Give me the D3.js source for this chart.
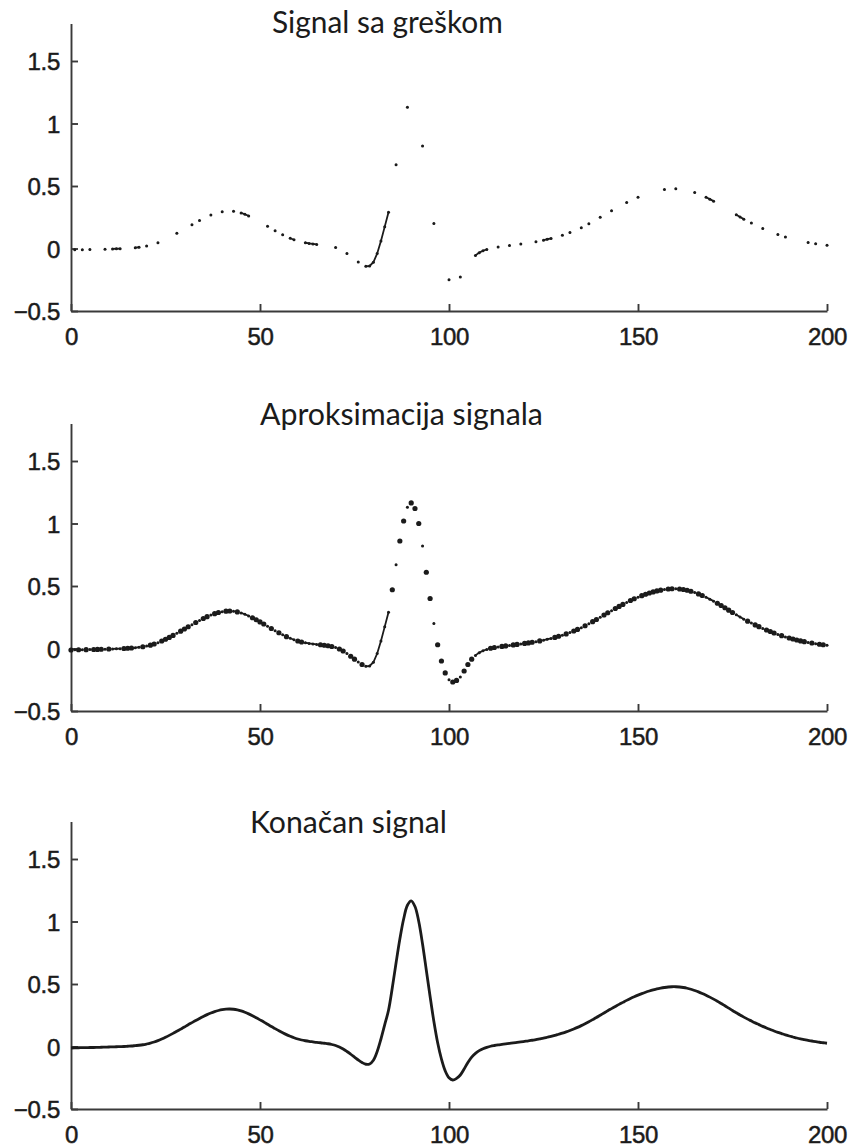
<!DOCTYPE html>
<html>
<head>
<meta charset="utf-8">
<script src="https://cdn.jsdelivr.net/npm/d3@7"></script>
<style>
  html, body { margin: 0; padding: 0; background: #fff; }
  svg { display: block; }
</style>
</head>
<body>
<script>
// ECG-like signal, one value per sample n = 0..200
const signal = [
  -0.012,-0.010,-0.010,-0.009,-0.009,-0.008,-0.008,-0.007,-0.006,-0.005,
  -0.004,-0.003,-0.002,-0.001, 0.000, 0.002, 0.004, 0.007, 0.010, 0.014,
   0.020, 0.027, 0.036, 0.047, 0.060, 0.074, 0.089, 0.105, 0.122, 0.139,
   0.156, 0.174, 0.191, 0.208, 0.224, 0.240, 0.255, 0.268, 0.279, 0.288,
   0.295, 0.299, 0.300, 0.298, 0.293, 0.285, 0.274, 0.261, 0.246, 0.230,
   0.213, 0.196, 0.178, 0.160, 0.143, 0.126, 0.110, 0.095, 0.082, 0.070,
   0.060, 0.052, 0.046, 0.041, 0.037, 0.033, 0.030, 0.026, 0.022, 0.016,
   0.008,-0.004,-0.020,-0.040,-0.062,-0.085,-0.108,-0.128,-0.142,-0.140,
  -0.110,-0.040, 0.060, 0.175, 0.290, 0.470, 0.670, 0.860, 1.020, 1.130,
   1.165, 1.120, 1.000, 0.820, 0.610, 0.400, 0.200, 0.030,-0.100,-0.195,
  -0.250,-0.268,-0.255,-0.228,-0.180,-0.128,-0.085,-0.055,-0.033,-0.018,
  -0.007, 0.002, 0.008, 0.013, 0.017, 0.021, 0.025, 0.029, 0.033, 0.037,
   0.041, 0.045, 0.050, 0.055, 0.061, 0.067, 0.074, 0.081, 0.089, 0.098,
   0.107, 0.117, 0.128, 0.140, 0.153, 0.167, 0.182, 0.198, 0.215, 0.232,
   0.250, 0.268, 0.286, 0.303, 0.320, 0.337, 0.353, 0.369, 0.384, 0.398,
   0.411, 0.423, 0.434, 0.444, 0.453, 0.461, 0.467, 0.472, 0.476, 0.478,
   0.478, 0.476, 0.472, 0.466, 0.458, 0.448, 0.437, 0.424, 0.410, 0.395,
   0.379, 0.362, 0.344, 0.326, 0.307, 0.288, 0.270, 0.252, 0.235, 0.219,
   0.204, 0.189, 0.175, 0.161, 0.148, 0.136, 0.124, 0.113, 0.103, 0.093,
   0.084, 0.076, 0.068, 0.061, 0.055, 0.049, 0.044, 0.039, 0.034, 0.030,
   0.026
];

// samples that survived (the rest were lost)
const observed = [
  1, 3, 5, 9, 11, 12, 13, 17, 18, 20, 23, 28, 32, 34, 37, 40, 43, 45, 46, 47,
  52, 54, 56, 58, 59, 62, 63, 64, 65, 70, 73, 76, 78, 79, 80, 81, 82, 83, 84,
  86, 89, 93, 96, 100, 103, 107, 108, 109, 110, 113, 116, 119, 123, 125, 126,
  127, 130, 132, 135, 137, 140, 143, 147, 150, 157, 160, 165, 168, 169, 170,
  176, 177, 178, 180, 183, 187, 189, 195, 197, 200
];

const titles = ["Signal sa greškom", "Aproksimacija signala", "Konačan signal"];
const xTicks = [0, 50, 100, 150, 200];
const yTicks = [-0.5, 0, 0.5, 1, 1.5];
const xDomain = [0, 200];
const yDomain = [-0.5, 1.8];

// ---- layout ----
const W = 850, H = 1147;
const left = 71, right = 827;
const panelBottoms = [311, 711, 1109];
const panelHeight = 287.5;
const titleBoxes = [            // left x, baseline, width
  { x: 272, y: 33, w: 231 },
  { x: 260, y: 425, w: 283 },
  { x: 250, y: 833, w: 197 }
];
const ink = "#1b1b1b";
const axisInk = "#3a3a3a";

const svg = d3.select("body").append("svg")
  .attr("width", W).attr("height", H)
  .attr("viewBox", `0 0 ${W} ${H}`);

const xScale = d3.scaleLinear().domain(xDomain).range([left, right]);

const samples = signal.map((v, n) => ({ n, v }));
const observedSet = new Set(observed);
const obsPts = samples.filter(d => observedSet.has(d.n));
const lostPts = samples.filter(d => !observedSet.has(d.n));

function drawAxes(g, y) {
  const ax = g.append("g")
    .attr("transform", `translate(0,${y.range()[0]})`)
    .call(d3.axisBottom(xScale).tickValues(xTicks).tickSizeInner(-7).tickSizeOuter(0));
  ax.selectAll("text").attr("y", 34).attr("dy", 0);

  const ay = g.append("g")
    .attr("transform", `translate(${left},0)`)
    .call(d3.axisLeft(y).tickValues(yTicks).tickSizeInner(-7).tickSizeOuter(0)
      .tickFormat(d => d < 0 ? "\u2212" + Math.abs(d) : String(d)));
  ay.selectAll("text").attr("x", -11).attr("dy", "0.36em");

  g.selectAll(".domain, .tick line")
    .attr("stroke", axisInk).attr("stroke-width", 1.9);
  g.selectAll(".tick text")
    .attr("fill", ink)
    .attr("stroke", ink)
    .attr("stroke-width", 0.5)
    .attr("font-family", "'Liberation Sans', Arial, sans-serif")
    .attr("letter-spacing", -0.3)
    .attr("font-size", 24);
}

function drawTitle(i) {
  const b = titleBoxes[i];
  const t = svg.append("text")
    .attr("x", b.x).attr("y", b.y)
    .attr("fill", ink)
    .attr("font-family", "Lato, 'Open Sans', sans-serif")
    .attr("font-size", 24)
    .text(titles[i]);
  const len = t.node().getComputedTextLength();
  t.attr("font-size", 24 * b.w / len);
}

panelBottoms.forEach((bottom, i) => {
  const y = d3.scaleLinear().domain(yDomain).range([bottom, bottom - panelHeight]);
  const g = svg.append("g");
  drawAxes(g, y);
  drawTitle(i);

  const runs = d3.line()
    .defined(d => observedSet.has(d.n))
    .x(d => xScale(d.n)).y(d => y(d.v));

  if (i < 2) {
    // surviving samples: joined where neighbours are both present
    g.append("path").datum(samples)
      .attr("d", runs)
      .attr("fill", "none").attr("stroke", ink)
      .attr("stroke-width", 1.8).attr("stroke-linecap", "round");
    g.append("g").selectAll("circle").data(obsPts).join("circle")
      .attr("cx", d => xScale(d.n)).attr("cy", d => y(d.v))
      .attr("r", 1.5).attr("fill", ink);
  }
  if (i === 1) {
    // recovered samples
    g.append("g").selectAll("circle").data(lostPts).join("circle")
      .attr("cx", d => xScale(d.n)).attr("cy", d => y(d.v))
      .attr("r", 2.6).attr("fill", ink);
  }
  if (i === 2) {
    g.append("path").datum(samples)
      .attr("d", d3.line().curve(d3.curveCatmullRom)
        .x(d => xScale(d.n)).y(d => y(d.v)))
      .attr("fill", "none").attr("stroke", ink)
      .attr("stroke-width", 2.8).attr("stroke-linejoin", "round");
  }
});
</script>
</body>
</html>
